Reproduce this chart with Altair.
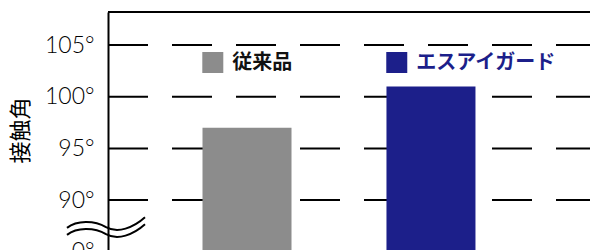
import altair as alt
import pandas as pd

categories = ["従来品", "エスアイガード"]
values = [97.0, 101.0]
colors = ["#8c8c8c", "#1c1f8a"]
label_colors = ["#111111", "#1c1f8a"]
grid_values = [90, 95, 100, 105]
tick_values = [85, 90, 95, 100, 105]

W, H = 482, 248

bars = pd.DataFrame({"cat": categories, "value": values, "color": colors, "lc": label_colors})
grid = pd.DataFrame({"g": grid_values})

yscale = alt.Scale(domain=[84.2, 108.2], zero=False, nice=False)
# band layout: step ~184px, bar ~89px, first bar starts ~94px right of the axis
xscale = alt.Scale(domain=categories, paddingInner=0.514, paddingOuter=0.567, align=0.452)

rules = alt.Chart(grid).mark_rule(color="black", strokeWidth=2, strokeDash=[40, 24]).encode(
    y=alt.Y("g:Q", scale=yscale,
            axis=alt.Axis(values=tick_values, title="接触角", titleAngle=270,
                          titleFontSize=22, titleFont="Noto Sans CJK JP", titleFontWeight="normal",
                          titleX=-88, titleY=118, titleAlign="center", titleBaseline="middle",
                          labelExpr="datum.value < 88 ? '0°' : datum.value + '°'",
                          labelFont="Lato", labelFontWeight=300, labelFontSize=23, labelColor="black",
                          labelPadding=14, ticks=False, grid=False, domainColor="black", domainWidth=2)),
    x=alt.value(0), x2=alt.value(W),
)

top = alt.Chart(pd.DataFrame({"t": [0]})).mark_rule(color="black", strokeWidth=2).encode(
    y=alt.value(0), x=alt.value(0), x2=alt.value(W)
)

bar = alt.Chart(bars).mark_bar(size=89).encode(
    x=alt.X("cat:N", scale=xscale, axis=None, sort=categories),
    y=alt.Y("value:Q", scale=yscale),
    y2=alt.value(H),
    color=alt.Color("color:N", scale=None, legend=None),
)

sq = alt.Chart(bars).mark_square(size=441, opacity=1, xOffset=10.5).encode(
    x=alt.X("cat:N", scale=xscale, bandPosition=0, sort=categories),
    y=alt.value(50.5),
    color=alt.Color("color:N", scale=None, legend=None),
)

txt = alt.Chart(bars).mark_text(align="left", baseline="middle", xOffset=30, fontSize=20,
                                 font="Noto Sans CJK JP", fontWeight="bold").encode(
    x=alt.X("cat:N", scale=xscale, bandPosition=0, sort=categories),
    y=alt.value(50.5),
    text="cat:N",
    color=alt.Color("lc:N", scale=None, legend=None),
)

wave_path = ("M-1,0.05 C-0.75,-0.15 -0.3,-0.15 0,0.03 C0.3,0.2 0.7,0.05 1,-0.22 "
             "M-1,0.23 C-0.75,0.03 -0.3,0.03 0,0.21 C0.3,0.38 0.7,0.23 1,-0.04")
wave = alt.Chart(pd.DataFrame({"b": [87.5]})).mark_point(
    shape=wave_path, size=6084, filled=False, stroke="black", strokeWidth=2, opacity=1
).encode(x=alt.value(-2), y=alt.Y("b:Q", scale=yscale))

chart = alt.layer(rules, top, bar, sq, txt, wave).properties(
    width=W, height=H,
    background="white",
    autosize=alt.AutoSizeParams(type="none"),
    padding={"left": 100, "top": 4, "right": 0, "bottom": 0},
).configure_view(stroke=None)

chart.save("out.html", embed_options={"renderer": "svg", "actions": False})
